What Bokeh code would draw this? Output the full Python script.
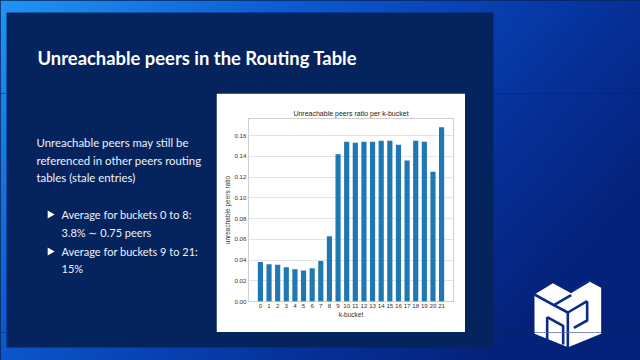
import numpy as np
from bokeh.plotting import figure
from bokeh.models import Range1d, FixedTicker, PrintfTickFormatter
from bokeh.layouts import column, row
from bokeh.embed import file_html
from bokeh.resources import INLINE
from bokeh.core.properties import value

# ---------------- data ----------------
buckets = list(range(22))
bucket_labels = [str(b) for b in buckets]
ratios = [0.038, 0.036, 0.0355, 0.033, 0.031, 0.030, 0.032, 0.039, 0.063,
          0.142, 0.154, 0.153, 0.154, 0.154, 0.155, 0.155, 0.151, 0.136,
          0.155, 0.154, 0.125, 0.168]
y_ticks = [0.00, 0.02, 0.04, 0.06, 0.08, 0.10, 0.12, 0.14, 0.16]

slide_title = "Unreachable peers in the Routing Table"
paragraph = ["Unreachable peers may still be",
             "referenced in other peers routing",
             "tables (stale entries)"]
bullet1 = ["Average for buckets 0 to 8:", "3.8% \u223c 0.75 peers"]
bullet2 = ["Average for buckets 9 to 21:", "15%"]
chart_title = "Unreachable peers ratio per k-bucket"

SLIDE_FONT = "Lato"
CHART_FONT = "Liberation Sans"
PANEL = "#05245d"
PANEL_BOX = (6, 493, 12, 347)   # left, right, top, bottom (screen px)

# ---------------- shared slide background ----------------
def fy(y):
    return 360 - y

ny, nx = 90, 160
gy, gx = np.mgrid[0:ny, 0:nx]
xr = (gx + 0.5) / nx * 640
yr = 360 - (gy + 0.5) / ny * 360
u = np.clip(0.78 * xr / 640 + 0.40 * yr / 360, 0, 1)
stops = [0.0, 0.35, 0.6, 0.8, 1.0]
cols = np.array([[33, 150, 243], [12, 92, 210], [8, 64, 176], [6, 46, 148], [5, 34, 122]], float)
grad = np.zeros((ny, nx), dtype=np.uint32)
view = grad.view(dtype=np.uint8).reshape((ny, nx, 4))
for k in range(3):
    view[:, :, k] = np.interp(u, stops, cols[:, k]).astype(np.uint8)
# gradient cells lying fully under the panel are left transparent
cx0 = gx * 4.0
cx1 = cx0 + 4
cy0 = 360 - (gy + 1) * 4.0
cy1 = cy0 + 4
inside = (cx0 >= PANEL_BOX[0] + 1) & (cx1 <= PANEL_BOX[1] - 1) & \
         (cy0 >= PANEL_BOX[2] + 1) & (cy1 <= PANEL_BOX[3] - 1)
view[:, :, 3] = np.where(inside, 0, 255).astype(np.uint8)

NAVY_LINE = "#0a2a8c"
logo_sil = [(42, 72), (97, 38), (152, 68), (205, 32), (242, 52), (242, 190), (143, 230), (42, 190)]
logo_lines = [
    [(42, 72), (100, 104), (152, 74)],
    [(100, 104), (142, 126), (200, 92)],
    [(142, 126), (142, 232)],
    [(205, 32), (160, 58)],
    [(200, 92), (200, 150), (160, 172)],
    [(80, 140), (80, 210)],
    [(80, 140), (128, 166), (128, 222)],
]

def lz(pts):
    return [520 + p[0] / 3 for p in pts], [fy(270 + p[1] / 3) for p in pts]

def decor(x0, x1, y0, y1, logo=False):
    f = figure(width=int(x1 - x0), height=int(y1 - y0), title=None,
               x_range=Range1d(x0, x1), y_range=Range1d(fy(y1), fy(y0)),
               x_axis_type=None, y_axis_type=None, output_backend="svg",
               toolbar_location=None, min_border=0, frame_align=False)
    f.outline_line_color = None
    f.grid.visible = False
    f.border_fill_color = PANEL
    f.background_fill_color = PANEL
    f.image_rgba(image=[grad], x=0, y=0, dw=640, dh=360)
    f.quad(left=PANEL_BOX[0], right=PANEL_BOX[1], top=fy(PANEL_BOX[2]), bottom=fy(PANEL_BOX[3]),
           fill_color=PANEL, line_color=None)
    if logo:
        xs, ys = lz(logo_sil)
        f.patch(xs, ys, fill_color="white", line_color=None)
        for ln in logo_lines:
            xs, ys = lz(ln)
            f.line(xs, ys, line_color=NAVY_LINE, line_width=2.6)
    return f

top = decor(0, 640, 0, 93)
left = decor(0, 216, 93, 332)
right = decor(465, 640, 93, 332, logo=True)
bottom = decor(0, 640, 332, 360, logo=True)

# slide texts
top.text(x=[37], y=[fy(57)], text=[slide_title], text_font=value(SLIDE_FONT),
         text_font_style="bold", text_font_size="18.4px", text_color="white",
         text_baseline="middle")
left.text(x=[36, 36, 36], y=[fy(142), fy(159.5), fy(177)], text=paragraph,
          text_font=value(SLIDE_FONT), text_font_size="11.4px", text_color="#eef2fa",
          text_baseline="middle")
left.text(x=[61, 61], y=[fy(214), fy(232)], text=bullet1, text_font=value(SLIDE_FONT),
          text_font_size="11px", text_color="#eef2fa", text_baseline="middle")
left.text(x=[61, 61], y=[fy(251), fy(268)], text=bullet2, text_font=value(SLIDE_FONT),
          text_font_size="11px", text_color="#eef2fa", text_baseline="middle")
left.scatter(x=[49.5, 49.5], y=[fy(214), fy(251)], marker="triangle", angle=-np.pi / 2,
             size=8, fill_color="white", line_color=None)

# ---------------- bar chart ----------------
ch = figure(width=249, height=239, x_range=Range1d(-1.38, 22.38), y_range=Range1d(0, 0.1764),
            output_backend="svg", toolbar_location=None, title=chart_title, frame_align=False,
            min_border_left=32, min_border_right=12, min_border_top=25, min_border_bottom=31)
ch.background_fill_color = "white"
ch.border_fill_color = "white"
ch.outline_line_color = "#cfcfcf"
ch.title.align = "center"
ch.title.text_font = CHART_FONT
ch.title.text_font_size = "7px"
ch.title.text_font_style = "normal"
ch.title.text_color = "#222222"
ch.title.standoff = 4

ch.vbar(x=buckets, top=ratios, width=0.6, fill_color="#1f77b4", line_color=None)

ch.xaxis.ticker = FixedTicker(ticks=buckets)
ch.xaxis.major_label_overrides = {b: l for b, l in zip(buckets, bucket_labels)}
ch.yaxis.ticker = FixedTicker(ticks=y_ticks)
ch.yaxis.formatter = PrintfTickFormatter(format="%.2f")
ch.xaxis.axis_label = "k-bucket"
ch.yaxis.axis_label = "unreachable peers ratio"
for ax in (ch.xaxis[0], ch.yaxis[0]):
    ax.axis_line_color = None
    ax.major_tick_line_color = None
    ax.minor_tick_line_color = None
    ax.major_tick_out = 0
    ax.major_tick_in = 0
    ax.minor_tick_out = 0
    ax.minor_tick_in = 0
    ax.major_label_text_font_size = "6.2px"
    ax.major_label_text_font = CHART_FONT
    ax.major_label_text_color = "#333333"
    ax.major_label_standoff = 2
    ax.axis_label_text_font_size = "6.5px"
    ax.axis_label_text_font = CHART_FONT
    ax.axis_label_text_font_style = "normal"
    ax.axis_label_text_color = "#333333"
    ax.axis_label_standoff = 0
ch.xgrid.grid_line_color = None
ch.ygrid.grid_line_color = "#e3e3e3"

page = column(top, row(left, ch, right), bottom)
page.styles = {"background-color": PANEL}
open("out.html", "w").write(file_html(page, INLINE))
